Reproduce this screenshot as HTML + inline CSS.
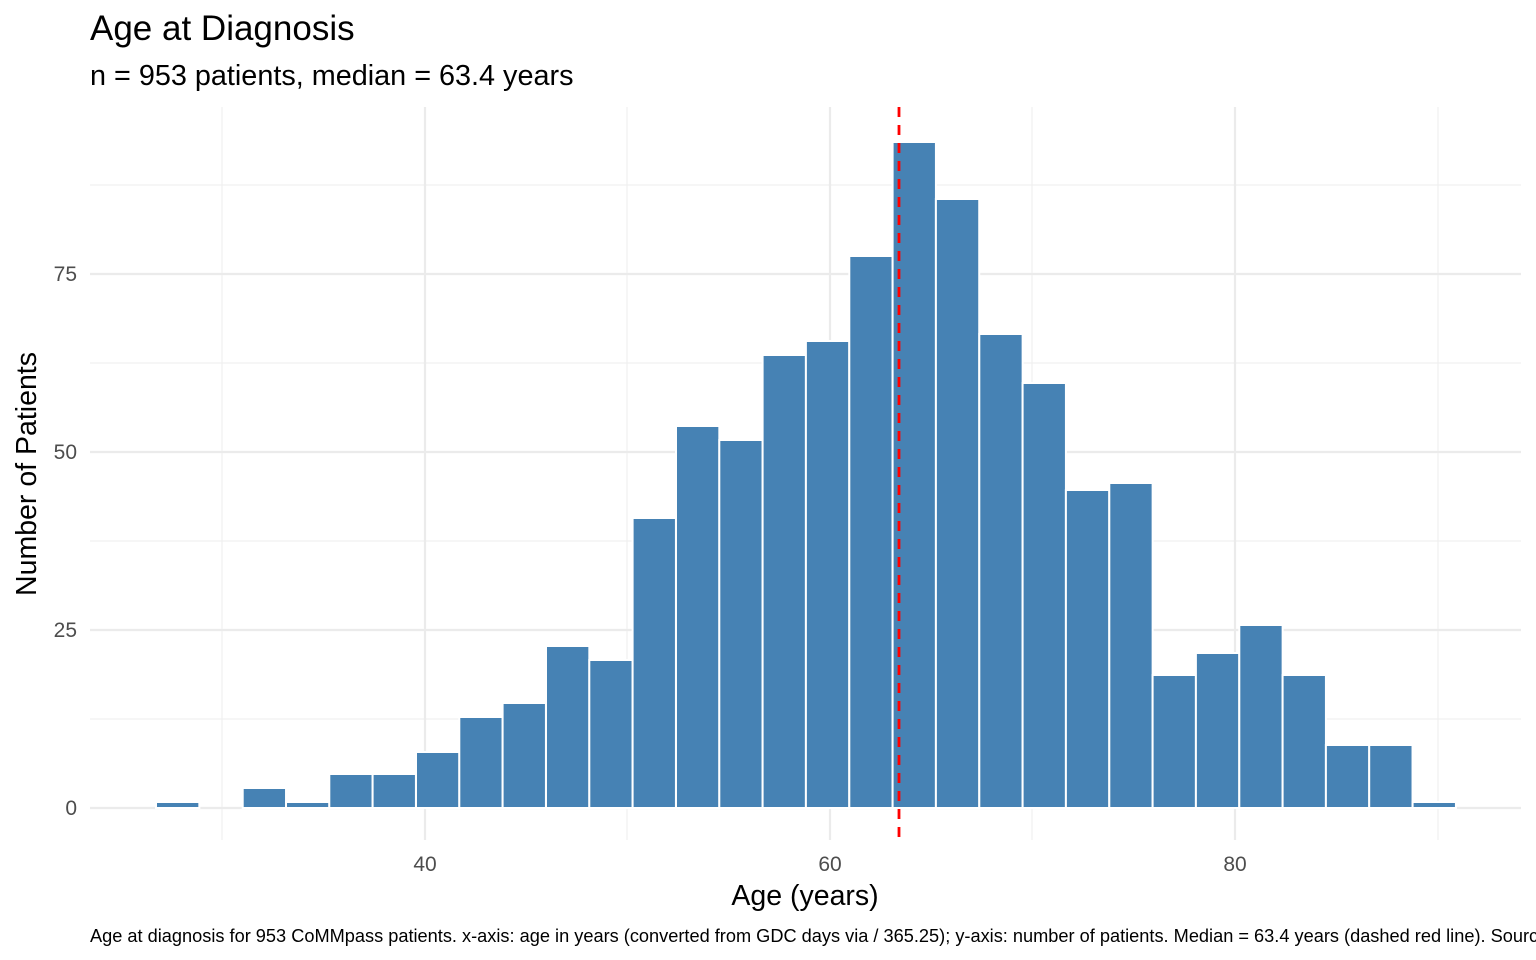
<!DOCTYPE html>
<html><head><meta charset="utf-8"><style>
body{margin:0;background:#fff;}
svg{display:block;font-family:"Liberation Sans",sans-serif;}
</style></head><body>
<svg width="1536" height="960" viewBox="0 0 1536 960" xmlns="http://www.w3.org/2000/svg">
<rect width="1536" height="960" fill="#fff"/>
<g stroke="#f0f0f0" stroke-width="1.2">
<line x1="90" x2="1521" y1="719" y2="719"/><line x1="90" x2="1521" y1="541" y2="541"/>
<line x1="90" x2="1521" y1="363" y2="363"/><line x1="90" x2="1521" y1="185" y2="185"/>
<line x1="222" x2="222" y1="107" y2="840"/><line x1="627" x2="627" y1="107" y2="840"/>
<line x1="1032" x2="1032" y1="107" y2="840"/><line x1="1438" x2="1438" y1="107" y2="840"/>
</g>
<g stroke="#ebebeb" stroke-width="2.2">
<line x1="90" x2="1521" y1="808" y2="808"/><line x1="90" x2="1521" y1="630" y2="630"/>
<line x1="90" x2="1521" y1="452" y2="452"/><line x1="90" x2="1521" y1="274" y2="274"/>
<line x1="425" x2="425" y1="107" y2="840"/><line x1="830" x2="830" y1="107" y2="840"/>
<line x1="1235" x2="1235" y1="107" y2="840"/>
</g>
<g fill="#4682b4" stroke="#fff" stroke-width="2" id="bars"></g>
<line x1="899" x2="899" y1="107" y2="842" stroke="#ff0000" stroke-width="2.8" stroke-dasharray="10,8"/>
<g fill="#4d4d4d" font-size="21">
<text x="77" y="815" text-anchor="end">0</text>
<text x="77" y="637" text-anchor="end">25</text>
<text x="77" y="459" text-anchor="end">50</text>
<text x="77" y="281" text-anchor="end">75</text>
<text x="425" y="871" text-anchor="middle">40</text>
<text x="830" y="871" text-anchor="middle">60</text>
<text x="1235" y="871" text-anchor="middle">80</text>
</g>
<text x="805" y="905" font-size="28.5" text-anchor="middle" fill="#000">Age (years)</text>
<text transform="translate(36,474) rotate(-90)" font-size="28.5" text-anchor="middle" fill="#000">Number of Patients</text>
<text x="90" y="40" font-size="35" fill="#000">Age at Diagnosis</text>
<text x="90" y="85" font-size="28.8" fill="#000">n = 953 patients, median = 63.4 years</text>
<text x="90" y="942" font-size="18.2" fill="#000">Age at diagnosis for 953 CoMMpass patients. x-axis: age in years (converted from GDC days via / 365.25); y-axis: number of patients. Median = 63.4 years (dashed red line). Source</text>
</svg>
<script>
var tops=[802,808,788,802,774,774,752,717,703,646,660,518,426,440,355,341,256,142,199,334,383,490,483,675,653,625,675,745,745,802];
var g=document.getElementById('bars'),s='';
for(var i=0;i<30;i++){var x=156+i*43.33;if(tops[i]>=808)continue;
s+='<rect x="'+x.toFixed(1)+'" y="'+tops[i]+'" width="43.33" height="'+(808-tops[i])+'"/>';}
g.innerHTML=s;
</script>
</body></html>
